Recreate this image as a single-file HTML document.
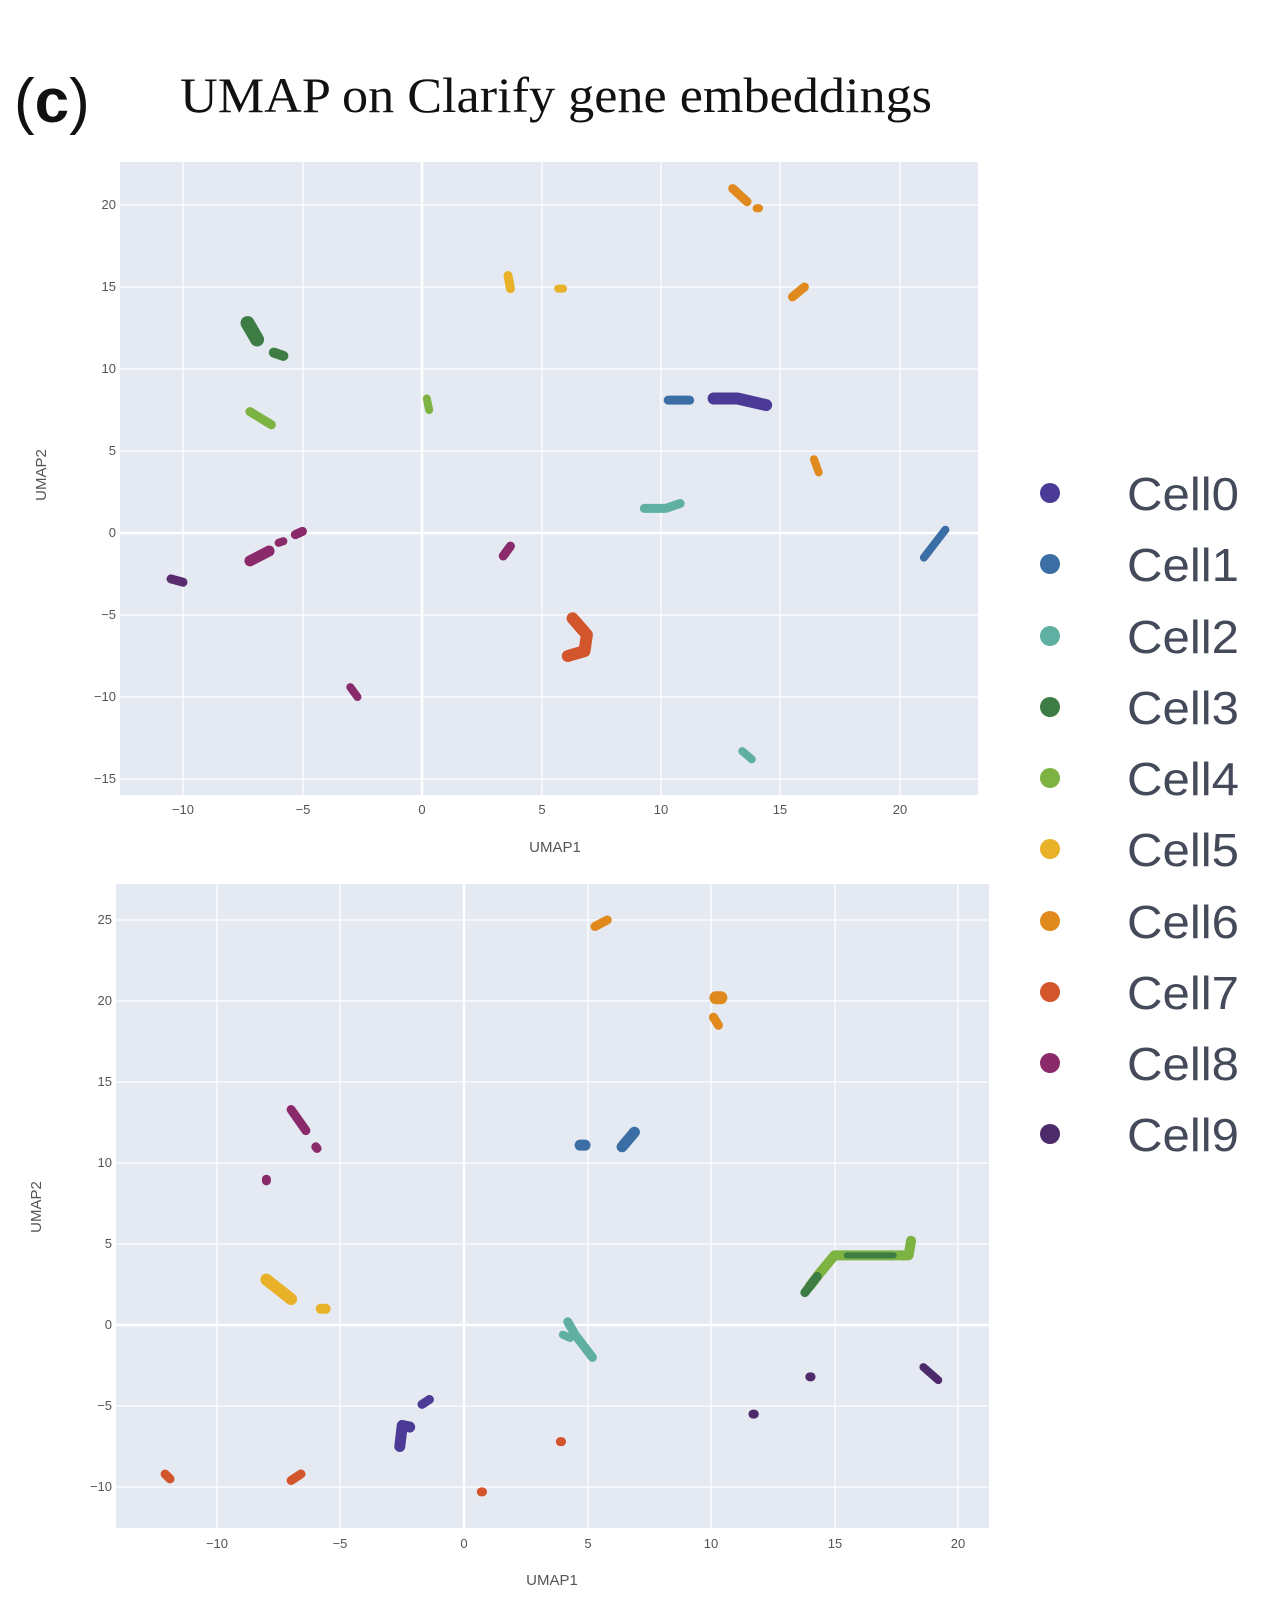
<!DOCTYPE html>
<html><head><meta charset="utf-8"><style>
html,body{margin:0;padding:0;background:#fff;}
svg{display:block;}
text{font-family:"Liberation Sans","DejaVu Sans",sans-serif;}
</style></head><body>
<svg width="1280" height="1616" viewBox="0 0 1280 1616" xmlns="http://www.w3.org/2000/svg">
<rect width="1280" height="1616" fill="#fff"/>
<text x="14" y="122" font-size="62" fill="#111">(<tspan font-weight="bold">c</tspan>)</text>
<text x="180" y="112" font-size="50" fill="#111" style="font-family:'Liberation Serif',serif" textLength="752" lengthAdjust="spacingAndGlyphs">UMAP on Clarify gene embeddings</text>

<!-- TOP PLOT: x0=422, 23.9px/unit; y0=533, 16.4px/unit -->
<rect x="120" y="162" width="858" height="633" fill="#e5e9f2"/>
<g stroke="#fff" stroke-width="1.3">
<line x1="183" y1="162" x2="183" y2="795"/><line x1="303" y1="162" x2="303" y2="795"/>
<line x1="542" y1="162" x2="542" y2="795"/><line x1="661" y1="162" x2="661" y2="795"/>
<line x1="780" y1="162" x2="780" y2="795"/><line x1="900" y1="162" x2="900" y2="795"/>
<line x1="120" y1="779" x2="978" y2="779"/><line x1="120" y1="697" x2="978" y2="697"/>
<line x1="120" y1="615" x2="978" y2="615"/><line x1="120" y1="451" x2="978" y2="451"/>
<line x1="120" y1="369" x2="978" y2="369"/><line x1="120" y1="287" x2="978" y2="287"/>
<line x1="120" y1="205" x2="978" y2="205"/>
</g>
<g stroke="#fff" stroke-width="2.5"><line x1="422" y1="162" x2="422" y2="795"/><line x1="120" y1="533" x2="978" y2="533"/></g>
<g font-size="13" fill="#555" text-anchor="end">
<text x="116" y="209">20</text><text x="116" y="291">15</text><text x="116" y="373">10</text><text x="116" y="455">5</text>
<text x="116" y="537">0</text><text x="116" y="619">−5</text><text x="116" y="701">−10</text><text x="116" y="783">−15</text>
</g>
<g font-size="13" fill="#555" text-anchor="middle">
<text x="183" y="814">−10</text><text x="303" y="814">−5</text><text x="422" y="814">0</text><text x="542" y="814">5</text>
<text x="661" y="814">10</text><text x="780" y="814">15</text><text x="900" y="814">20</text>
</g>
<text x="555" y="852" font-size="15" fill="#555" text-anchor="middle">UMAP1</text>
<text transform="translate(46,475) rotate(-90)" font-size="15" fill="#555" text-anchor="middle">UMAP2</text>

<g transform="translate(422,533) scale(23.9,-16.4)" fill="none" stroke-linecap="round" stroke-linejoin="round">
<g stroke="#e08a1e"><path d="M13 21 L13.6 20.2" stroke-width="9" vector-effect="non-scaling-stroke"/><path d="M14 19.8 L14.1 19.8" stroke-width="8" vector-effect="non-scaling-stroke"/>
<path d="M15.5 14.4 L16 15" stroke-width="9" vector-effect="non-scaling-stroke"/><path d="M16.4 4.5 L16.6 3.7" stroke-width="8" vector-effect="non-scaling-stroke"/></g>
<g stroke="#e8b127"><path d="M3.6 15.7 L3.7 14.9" stroke-width="9" vector-effect="non-scaling-stroke"/><path d="M5.7 14.9 L5.9 14.9" stroke-width="8" vector-effect="non-scaling-stroke"/></g>
<g stroke="#3d7d45"><path d="M-7.3 12.8 L-6.9 11.8" stroke-width="14" vector-effect="non-scaling-stroke"/><path d="M-6.2 11 L-5.8 10.8" stroke-width="10" vector-effect="non-scaling-stroke"/></g>
<g stroke="#7cb342"><path d="M-7.2 7.4 L-6.3 6.6" stroke-width="9" vector-effect="non-scaling-stroke"/><path d="M0.2 8.2 L0.3 7.5" stroke-width="8" vector-effect="non-scaling-stroke"/></g>
<g stroke="#3a6ea5"><path d="M10.3 8.1 L11.2 8.1" stroke-width="9" vector-effect="non-scaling-stroke"/><path d="M21 -1.5 L21.9 0.2" stroke-width="8" vector-effect="non-scaling-stroke"/></g>
<g stroke="#4b3b96"><path d="M12.2 8.2 L13.2 8.2 L14.4 7.8" stroke-width="12" vector-effect="non-scaling-stroke"/></g>
<g stroke="#5fb0a3"><path d="M9.3 1.5 L10.2 1.5 L10.8 1.8" stroke-width="9" vector-effect="non-scaling-stroke"/><path d="M13.4 -13.3 L13.8 -13.8" stroke-width="8" vector-effect="non-scaling-stroke"/></g>
<g stroke="#d3552b"><path d="M6.3 -5.2 L6.9 -6.2 L6.8 -7.2 L6.1 -7.5" stroke-width="12" vector-effect="non-scaling-stroke"/></g>
<g stroke="#8a2a6b"><path d="M-7.2 -1.7 L-6.4 -1.1" stroke-width="11" vector-effect="non-scaling-stroke"/><path d="M-6 -0.6 L-5.8 -0.5" stroke-width="8" vector-effect="non-scaling-stroke"/><path d="M-5.3 -0.1 L-5 0.1" stroke-width="9" vector-effect="non-scaling-stroke"/>
<path d="M3.4 -1.4 L3.7 -0.8" stroke-width="9" vector-effect="non-scaling-stroke"/><path d="M-3 -9.4 L-2.7 -10" stroke-width="8" vector-effect="non-scaling-stroke"/></g>
<g stroke="#5a2a6e"><path d="M-10.5 -2.8 L-10 -3" stroke-width="9" vector-effect="non-scaling-stroke"/></g>
</g>

<!-- BOTTOM PLOT: x0=464, 24.7/unit; y0=1325, 16.2/unit -->
<rect x="116" y="884" width="873" height="644" fill="#e5e9f2"/>
<g stroke="#fff" stroke-width="1.3">
<line x1="217" y1="884" x2="217" y2="1528"/><line x1="340" y1="884" x2="340" y2="1528"/>
<line x1="588" y1="884" x2="588" y2="1528"/><line x1="711" y1="884" x2="711" y2="1528"/>
<line x1="835" y1="884" x2="835" y2="1528"/><line x1="958" y1="884" x2="958" y2="1528"/>
<line x1="116" y1="920" x2="989" y2="920"/><line x1="116" y1="1001" x2="989" y2="1001"/>
<line x1="116" y1="1082" x2="989" y2="1082"/><line x1="116" y1="1163" x2="989" y2="1163"/>
<line x1="116" y1="1244" x2="989" y2="1244"/><line x1="116" y1="1406" x2="989" y2="1406"/>
<line x1="116" y1="1487" x2="989" y2="1487"/>
</g>
<g stroke="#fff" stroke-width="2.5"><line x1="464" y1="884" x2="464" y2="1528"/><line x1="116" y1="1325" x2="989" y2="1325"/></g>
<g font-size="13" fill="#555" text-anchor="end">
<text x="112" y="924">25</text><text x="112" y="1005">20</text><text x="112" y="1086">15</text><text x="112" y="1167">10</text>
<text x="112" y="1248">5</text><text x="112" y="1329">0</text><text x="112" y="1410">−5</text><text x="112" y="1491">−10</text>
</g>
<g font-size="13" fill="#555" text-anchor="middle">
<text x="217" y="1548">−10</text><text x="340" y="1548">−5</text><text x="464" y="1548">0</text><text x="588" y="1548">5</text>
<text x="711" y="1548">10</text><text x="835" y="1548">15</text><text x="958" y="1548">20</text>
</g>
<text x="552" y="1585" font-size="15" fill="#555" text-anchor="middle">UMAP1</text>
<text transform="translate(41,1207) rotate(-90)" font-size="15" fill="#555" text-anchor="middle">UMAP2</text>

<g transform="translate(464,1325) scale(24.7,-16.2)" fill="none" stroke-linecap="round" stroke-linejoin="round">
<g stroke="#e08a1e"><path d="M5.3 24.6 L5.8 25" stroke-width="9" vector-effect="non-scaling-stroke"/><path d="M10.2 20.2 L10.4 20.2" stroke-width="13" vector-effect="non-scaling-stroke"/><path d="M10.1 19 L10.3 18.5" stroke-width="9" vector-effect="non-scaling-stroke"/></g>
<g stroke="#8a2a6b"><path d="M-7 13.3 L-6.4 12" stroke-width="9" vector-effect="non-scaling-stroke"/><path d="M-6 11 L-5.95 10.9" stroke-width="9" vector-effect="non-scaling-stroke"/><path d="M-8 9 L-8 8.9" stroke-width="9" vector-effect="non-scaling-stroke"/></g>
<g stroke="#3a6ea5"><path d="M4.7 11.1 L4.9 11.1" stroke-width="11" vector-effect="non-scaling-stroke"/><path d="M6.4 11 L6.9 11.9" stroke-width="11" vector-effect="non-scaling-stroke"/></g>
<g stroke="#7cb342"><path d="M14 2.4 L14.4 3.2 L15 4.3 L16 4.3 L18 4.3 L18.1 5.2" stroke-width="10" vector-effect="non-scaling-stroke"/></g>
<g stroke="#3d7d45"><path d="M13.8 2 L14.3 3" stroke-width="9" vector-effect="non-scaling-stroke"/><path d="M15.5 4.3 L17.4 4.3" stroke-width="6" vector-effect="non-scaling-stroke"/></g>
<g stroke="#e8b127"><path d="M-8 2.8 L-7 1.6" stroke-width="12" vector-effect="non-scaling-stroke"/><path d="M-5.8 1 L-5.6 1" stroke-width="10" vector-effect="non-scaling-stroke"/></g>
<g stroke="#5fb0a3"><path d="M4.2 0.2 L4.5 -0.6 L5.2 -2" stroke-width="9" vector-effect="non-scaling-stroke"/><path d="M4 -0.6 L4.3 -0.8" stroke-width="8" vector-effect="non-scaling-stroke"/></g>
<g stroke="#4b3b96"><path d="M-2.6 -7.5 L-2.5 -6.2 L-2.2 -6.3" stroke-width="11" vector-effect="non-scaling-stroke"/><path d="M-1.7 -4.9 L-1.4 -4.6" stroke-width="9" vector-effect="non-scaling-stroke"/></g>
<g stroke="#4d2a6a"><path d="M14 -3.2 L14.05 -3.2" stroke-width="9" vector-effect="non-scaling-stroke"/><path d="M18.6 -2.6 L19.2 -3.4" stroke-width="8" vector-effect="non-scaling-stroke"/><path d="M11.7 -5.5 L11.75 -5.5" stroke-width="9" vector-effect="non-scaling-stroke"/></g>
<g stroke="#d3552b"><path d="M3.9 -7.2 L3.95 -7.2" stroke-width="9" vector-effect="non-scaling-stroke"/><path d="M0.7 -10.3 L0.75 -10.3" stroke-width="9" vector-effect="non-scaling-stroke"/><path d="M-12.1 -9.2 L-11.9 -9.5" stroke-width="9" vector-effect="non-scaling-stroke"/><path d="M-7 -9.6 L-6.6 -9.2" stroke-width="9" vector-effect="non-scaling-stroke"/></g>
</g>

<!-- LEGEND -->
<g>
<circle cx="1050" cy="493" r="10" fill="#4b3b96"/>
<circle cx="1050" cy="564" r="10" fill="#3a6ea5"/>
<circle cx="1050" cy="636" r="10" fill="#5fb0a3"/>
<circle cx="1050" cy="707" r="10" fill="#3d7d45"/>
<circle cx="1050" cy="778" r="10" fill="#7cb342"/>
<circle cx="1050" cy="849" r="10" fill="#e8b127"/>
<circle cx="1050" cy="921" r="10" fill="#e08a1e"/>
<circle cx="1050" cy="992" r="10" fill="#d3552b"/>
<circle cx="1050" cy="1063" r="10" fill="#8a2a6b"/>
<circle cx="1050" cy="1134" r="10" fill="#4d2a6a"/>
</g>
<g font-size="46" fill="#444a5a">
<text x="1127" y="510" textLength="112" lengthAdjust="spacingAndGlyphs">Cell0</text>
<text x="1127" y="581" textLength="112" lengthAdjust="spacingAndGlyphs">Cell1</text>
<text x="1127" y="653" textLength="112" lengthAdjust="spacingAndGlyphs">Cell2</text>
<text x="1127" y="724" textLength="112" lengthAdjust="spacingAndGlyphs">Cell3</text>
<text x="1127" y="795" textLength="112" lengthAdjust="spacingAndGlyphs">Cell4</text>
<text x="1127" y="866" textLength="112" lengthAdjust="spacingAndGlyphs">Cell5</text>
<text x="1127" y="938" textLength="112" lengthAdjust="spacingAndGlyphs">Cell6</text>
<text x="1127" y="1009" textLength="112" lengthAdjust="spacingAndGlyphs">Cell7</text>
<text x="1127" y="1080" textLength="112" lengthAdjust="spacingAndGlyphs">Cell8</text>
<text x="1127" y="1151" textLength="112" lengthAdjust="spacingAndGlyphs">Cell9</text>
</g>
</svg>
</body></html>
